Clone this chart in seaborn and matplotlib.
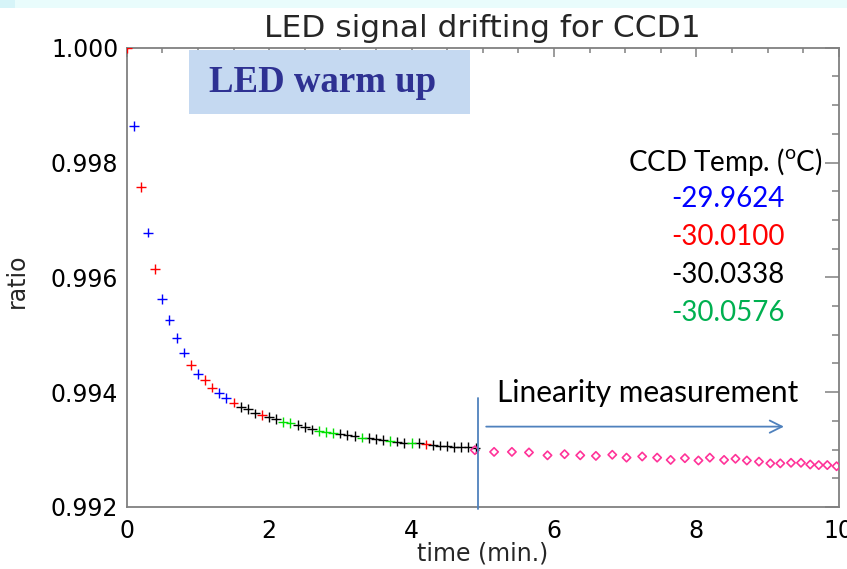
import matplotlib
matplotlib.use("Agg")
import matplotlib.pyplot as plt
import seaborn as sns
import pandas as pd
from matplotlib.patches import Rectangle
from matplotlib.ticker import MultipleLocator, FormatStrFormatter

sns.set_theme(style="white")
plt.rcParams["font.family"] = ["DejaVu Sans"]
plt.rcParams["mathtext.fontset"] = "custom"
plt.rcParams["mathtext.rm"] = "Lato"

# ---------------- data ----------------
temps = ["-29.9624", "-30.0100", "-30.0338", "-30.0576"]
temp_colors = ["#0000FF", "#FF0000", "#000000", "#00B050"]
marker_colors = ["#0000FF", "#FF0000", "#000000", "#00E000"]

blue_time = [0.1, 0.3, 0.5, 0.6, 0.7, 0.8, 1.0, 1.3, 1.4]
blue_ratio = [0.99864, 0.99678, 0.99563, 0.99525, 0.99494, 0.99469, 0.99431, 0.99399, 0.99390]

red_time = [0.0, 0.2, 0.4, 0.9, 1.1, 1.2, 1.5, 1.9, 4.2]
red_ratio = [1.00000, 0.99757, 0.99614, 0.99447, 0.99421, 0.99408, 0.99382, 0.99360, 0.99309]

black_time = [1.6, 1.7, 1.8, 2.0, 2.1, 2.4, 2.5, 2.6, 3.0, 3.1, 3.2, 3.4, 3.5, 3.6,
              3.8, 3.9, 4.1, 4.3, 4.4, 4.5, 4.6, 4.7, 4.8, 4.9]
black_ratio = [0.99374, 0.99371, 0.99363, 0.99357, 0.99353, 0.99343, 0.99340, 0.99335,
               0.99328, 0.99325, 0.99324, 0.99320, 0.99319, 0.99317, 0.99314, 0.99312,
               0.99311, 0.99308, 0.99307, 0.99306, 0.99305, 0.99304, 0.99304, 0.99303]

green_time = [2.2, 2.3, 2.7, 2.8, 2.9, 3.3, 3.7, 4.0]
green_ratio = [0.99348, 0.99346, 0.99333, 0.99331, 0.99329, 0.99321, 0.99315, 0.99311]

lin_time = [4.89, 5.16, 5.41, 5.65, 5.91, 6.15, 6.37, 6.59, 6.82, 7.02, 7.24, 7.45, 7.64,
            7.84, 8.03, 8.19, 8.39, 8.55, 8.71, 8.88, 9.04, 9.18, 9.33, 9.47, 9.60, 9.72,
            9.84, 9.97]
lin_ratio = [0.99299, 0.99296, 0.99296, 0.99295, 0.99290, 0.99292, 0.99290, 0.99289,
             0.99291, 0.99286, 0.99288, 0.99286, 0.99282, 0.99285, 0.99281, 0.99286,
             0.99282, 0.99284, 0.99281, 0.99279, 0.99276, 0.99276, 0.99277, 0.99277,
             0.99274, 0.99273, 0.99273, 0.99271]

x_ticks = [0, 2, 4, 6, 8, 10]
y_ticks = [0.992, 0.994, 0.996, 0.998, 1.000]

warm = pd.DataFrame({
    "time": blue_time + red_time + black_time + green_time,
    "ratio": blue_ratio + red_ratio + black_ratio + green_ratio,
    "temp": [temps[0]] * len(blue_time) + [temps[1]] * len(red_time)
            + [temps[2]] * len(black_time) + [temps[3]] * len(green_time),
})
lin = pd.DataFrame({"time": lin_time, "ratio": lin_ratio})

# ---------------- figure ----------------
W, H = 847, 569
fig = plt.figure(figsize=(W / 100, H / 100), dpi=100)
fig.patch.set_facecolor("white")


def fx(px):
    return px / W


def fy(py):
    return 1 - py / H


# slide background strip at the very top
fig.patches.append(Rectangle((0, fy(8)), 1, 8 / H, transform=fig.transFigure,
                             facecolor="#E9FCFC", edgecolor="none", zorder=0))
fig.patches.append(Rectangle((0, fy(8)), fx(15), 8 / H, transform=fig.transFigure,
                             facecolor="#D6F4F8", edgecolor="none", zorder=0))

ax = fig.add_axes([fx(126.7), fy(507), fx(838.7) - fx(126.7), fy(47.7) - fy(507)])
ax.set_facecolor("white")

sns.scatterplot(data=warm, x="time", y="ratio", hue="temp", hue_order=temps,
                palette=marker_colors, marker="+", s=50, linewidth=1.0,
                legend=False, ax=ax, zorder=3)
sns.scatterplot(data=lin, x="time", y="ratio", marker="D", s=18,
                facecolor="none", edgecolor="#FF3399", linewidth=1.2,
                ax=ax, zorder=3)

ax.set_xlim(0, 10)
ax.set_ylim(0.992, 1.000)
ax.set_xticks(x_ticks)
ax.set_yticks(y_ticks)
ax.xaxis.set_minor_locator(MultipleLocator(0.5))
ax.yaxis.set_minor_locator(MultipleLocator(0.0005))
ax.yaxis.set_major_formatter(FormatStrFormatter("%.3f"))
ax.xaxis.set_major_formatter(FormatStrFormatter("%d"))

for sp in ax.spines.values():
    sp.set_visible(True)
    sp.set_color("#808080")
    sp.set_linewidth(1.3)

ax.tick_params(which="both", direction="in", top=True, right=True,
               color="#808080", labelcolor="black", width=1.1)
ax.tick_params(axis="x", which="major", length=6.5, pad=9, labelsize=17)
ax.tick_params(axis="x", which="minor", length=3.5)
ax.tick_params(axis="y", which="major", length=10, pad=6, labelsize=17)
ax.tick_params(axis="y", which="minor", length=5)

ax.set_title("LED signal drifting for CCD1", fontsize=22.5, pad=8)
ax.set_xlabel("time (min.)", fontsize=17)
ax.set_ylabel("ratio", fontsize=17)
ax.xaxis.set_label_coords(0.5, (507 - 541) / 459.3)
ax.xaxis.label.set_va("top")
ax.yaxis.set_label_coords((29 - 126.7) / 712, (507 - 281) / 459.3)

# linearity measurement marker
ax.plot([4.94, 4.94], [0.99390, 0.99197], color="#4F81BD", lw=1.3,
        clip_on=False, zorder=4)
ax.annotate("", xy=(9.27, 0.99340), xytext=(5.01, 0.99340),
            arrowprops=dict(arrowstyle="->", color="#4F81BD", lw=1.3,
                            mutation_scale=22))
fig.text(fx(497), fy(393), "Linearity measurement", family="Lato", fontsize=21.5,
         ha="left", va="center", color="black")

# LED warm up box
fig.patches.append(Rectangle((fx(189), fy(114)), fx(470) - fx(189), fy(50) - fy(114),
                             transform=fig.transFigure, facecolor="#C5D9F1",
                             edgecolor="none", zorder=5))
fig.text(fx(322.5), fy(83), "LED warm up", family="Liberation Serif", weight="bold",
         fontsize=26.5, color="#2E3192", ha="center", va="center", zorder=6)

# temperature legend
fig.text(fx(822.7), fy(161.7), r"CCD Temp. ($^{\mathrm{o}}$C)", family="Lato",
         fontsize=20, ha="right", va="center", color="black")
for t, c, yy in zip(temps, temp_colors, [199.3, 236.7, 275.0, 312.7]):
    fig.text(fx(784.3), fy(yy), t, family="Lato", fontsize=20, ha="right",
             va="center", color=c)

fig.savefig("out.png", dpi=100)
